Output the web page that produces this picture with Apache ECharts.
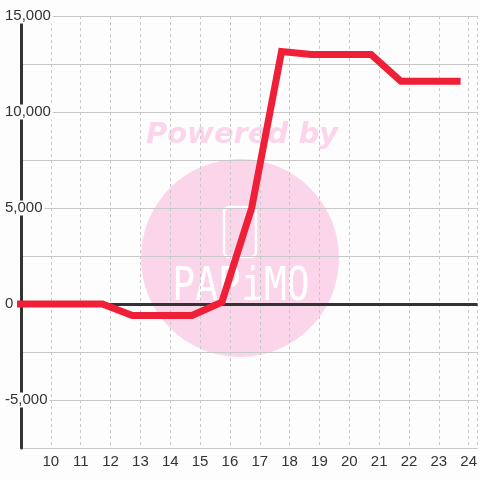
<!DOCTYPE html>
<html>
<head>
<meta charset="utf-8">
<script src="https://cdn.jsdelivr.net/npm/echarts@6/dist/echarts.min.js"></script>
<style>
  html, body { margin: 0; padding: 0; background: #fcfdfc; }
  #chart { width: 480px; height: 480px; }
</style>
</head>
<body>
<div id="chart"></div>
<script>
// Data
const xValues = [8.73, 9.73, 10.73, 11.73, 12.73, 13.73, 14.73, 15.73, 16.73, 17.73, 18.73, 19.73, 20.73, 21.73, 22.73, 23.73];
const yValues = [0, 0, 0, 0, -600, -600, -600, 100, 5000, 13150, 13000, 13000, 13000, 11600, 11600, 11600];
const xTickLabels = [10, 11, 12, 13, 14, 15, 16, 17, 18, 19, 20, 21, 22, 23, 24];
const yTickLabels = [-5000, 0, 5000, 10000, 15000];

const chart = echarts.init(document.getElementById('chart'), null, { renderer: 'canvas' });
const FONT = "'Liberation Sans', Arial, sans-serif";

chart.setOption({
  backgroundColor: '#fcfdfc',
  animation: false,
  grid: { left: 21, right: 0, top: 16, bottom: 32, containLabel: false },
  graphic: [
    { type: 'circle', z: -10, shape: { cx: 240, cy: 258, r: 99 }, style: { fill: '#fbd5ea' } },
    { type: 'text', z: -10, x: 242, y: 135, style: { text: 'Powered by', fill: '#fcd5ea', font: "italic bold 29px 'DejaVu Sans', sans-serif", align: 'center', verticalAlign: 'middle' } },
    { type: 'rect', z: -9, shape: { x: 224, y: 207, width: 32, height: 50, r: 5 }, style: { fill: 'none', stroke: '#ffffff', lineWidth: 2.5 } },
    { type: 'text', z: -9, x: 241, y: 288, scaleY: 1.2, style: { text: 'PAPiMO', fill: '#ffffff', font: "38px 'DejaVu Sans Mono', monospace", align: 'center', verticalAlign: 'middle' } }
  ],
  xAxis: {
    type: 'value', min: 9, max: 24.3, interval: 1,
    axisLine: { show: false, onZero: false },
    axisTick: { show: false },
    minorSplitLine: { show: false },
    splitLine: { show: true, lineStyle: { color: '#c8c8c8', width: 1, type: [3, 3] } },
    axisLabel: {
      showMinLabel: false, showMaxLabel: false, margin: 6,
      color: '#333', fontSize: 15, fontFamily: FONT,
      formatter: v => (xTickLabels.indexOf(v) >= 0 ? String(v) : '')
    }
  },
  yAxis: {
    type: 'value', min: -7500, max: 15000, interval: 2500,
    axisLine: { show: true, lineStyle: { color: '#333', width: 3 } },
    axisTick: { show: false },
    splitLine: { show: true, lineStyle: { color: '#c8c8c8', width: 1 } },
    axisLabel: {
      showMinLabel: true, showMaxLabel: true, align: 'left', margin: 16,
      formatter: v => (yTickLabels.indexOf(v) >= 0 ? '{a|' + v.toLocaleString('en-US') + '}' : ''),
      rich: { a: { color: '#333', fontSize: 15, fontFamily: FONT, backgroundColor: '#fcfdfc', lineHeight: 16, padding: [0, 2, 0, 0] } }
    }
  },
  series: [{
    type: 'line',
    data: xValues.map((x, i) => [x, yValues[i]]),
    showSymbol: false, symbol: 'none',
    clip: true,
    z: 10,
    lineStyle: { color: '#ee1f36', width: 7, join: 'miter' },
    markLine: {
      silent: true, symbol: 'none', z: 3,
      label: { show: false },
      lineStyle: { color: '#333', width: 3, type: 'solid' },
      emphasis: { disabled: true },
      data: [{ yAxis: 0 }]
    }
  }]
});
</script>
</body>
</html>
